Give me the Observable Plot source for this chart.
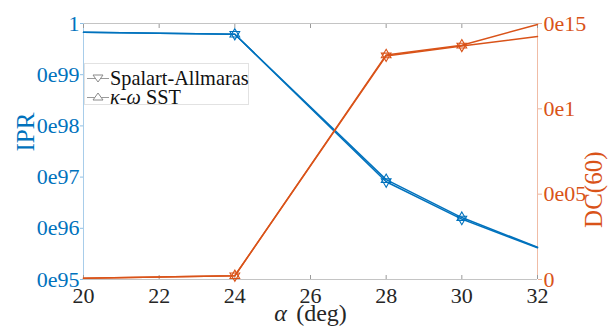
<!DOCTYPE html>
<html>
<head>
<meta charset="utf-8">
<script src="https://cdn.jsdelivr.net/npm/d3@7"></script>
<script src="https://cdn.jsdelivr.net/npm/@observablehq/plot@0.6"></script>
<style>
  body { margin: 0; background: #fff; }
  #wrap { position: relative; width: 615px; height: 330px; font-family: "Liberation Serif", serif; }
  #wrap svg text { font-family: "Liberation Serif", serif; }
  #legend { position: absolute; left: 84px; top: 63px; width: 165px; height: 42px; border: 1px solid #e2e2e2;
            background: #fff; box-sizing: border-box; font-size: 20.3px; color: #111; font-family: "Liberation Serif", serif; }
  .row { position: absolute; left: 2px; height: 19px; line-height: 19px; display: flex; align-items: center; white-space: nowrap; }
  .row span { line-height: 19px; }
  .row svg { margin-right: 1px; }
</style>
</head>
<body>
<div id="wrap"></div>
<script>
// Angle of attack (deg)
const alpha = [20, 24, 28, 30, 32];

// IPR for each turbulence model
const iprSA  = [0.9983, 0.9979, 0.9691, 0.9618, 0.9562];
const iprSST = [0.9983, 0.9979, 0.9695, 0.9621, 0.9563];

// DC(60) for each turbulence model
const dcSA  = [0.0008, 0.0022, 0.1310, 0.1368, 0.1424];
const dcSST = [0.0008, 0.0022, 0.1316, 0.1373, 0.1494];

// Axis ticks and their labels
const xTicks = [20, 22, 24, 26, 28, 30, 32];
const iprTicks = [1, 0.99, 0.98, 0.97, 0.96, 0.95];
const iprTickLabels = ["1", "0e99", "0e98", "0e97", "0e96", "0e95"];
const dcTicks = [0, 0.05, 0.1, 0.15];
const dcTickLabels = ["0", "0e05", "0e1", "0e15"];

const models = [
  {name: "Spalart-Allmaras", ipr: iprSA, dc: dcSA, rotate: 180},
  {name: "κ-ω SST", ipr: iprSST, dc: dcSST, rotate: 0}
];

const BLUE = "#0072BD", ORANGE = "#D95319";
const SERIF = "Liberation Serif";
const iprDomain = [0.95, 1];
const dcDomain = [0, 0.15];
// map a DC(60) value onto the shared (IPR) vertical scale
const toY = v => iprDomain[0] + (v - dcDomain[0]) / (dcDomain[1] - dcDomain[0]) * (iprDomain[1] - iprDomain[0]);

const rows = [];
for (const m of models) {
  alpha.forEach((a, i) => rows.push({alpha: a, ipr: m.ipr[i], dc: m.dc[i], model: m.name, rotate: m.rotate}));
}
const markerRows = rows.filter(d => d.alpha > alpha[0] && d.alpha < alpha[alpha.length - 1]);

const nearestLabel = (ticks, labels) => v => {
  let best = 0;
  ticks.forEach((t, i) => { if (Math.abs(t - v) < Math.abs(ticks[best] - v)) best = i; });
  return labels[best];
};

const plot = Plot.plot({
  width: 615,
  height: 330,
  marginLeft: 83,
  marginRight: 78,
  marginTop: 23,
  marginBottom: 51,
  style: {fontFamily: SERIF, background: "transparent", overflow: "visible"},
  x: {domain: [20, 32]},
  y: {domain: iprDomain},
  marks: [
    // box
    Plot.ruleY([iprDomain[1]], {stroke: "#c4c4c4"}),
    Plot.ruleY([iprDomain[0]], {stroke: "#c4c4c4"}),
    Plot.ruleX([20], {stroke: "#a8cdea"}),
    Plot.ruleX([32], {stroke: "#f0bca6"}),
    // x axis: inward ticks on bottom and top, labels below
    Plot.axisX({anchor: "bottom", ticks: xTicks, tickSize: -4, tickFormat: () => "", stroke: "#9a9a9a", label: null}),
    Plot.axisX({anchor: "top", ticks: xTicks, tickSize: -4, tickFormat: () => "", stroke: "#9a9a9a", label: null}),
    Plot.axisX({anchor: "bottom", ticks: xTicks, tickSize: 0, tickPadding: 8, fontSize: 22, fontFamily: SERIF, fill: "#262626", label: null}),
    // left axis (IPR)
    Plot.axisY({anchor: "left", ticks: iprTicks, tickFormat: nearestLabel(iprTicks, iprTickLabels),
                tickSize: 3, tickPadding: 1, fontSize: 22, fontFamily: SERIF, fill: BLUE, stroke: "#8fbfe3", label: null}),
    // right axis (DC(60))
    Plot.axisY({anchor: "right", ticks: dcTicks.map(toY), tickFormat: nearestLabel(dcTicks.map(toY), dcTickLabels),
                tickSize: 4, tickPadding: 2, fontSize: 22, fontFamily: SERIF, fill: ORANGE, stroke: "#eeb39a", label: null}),
    // IPR curves
    Plot.line(rows, {x: "alpha", y: "ipr", z: "model", stroke: BLUE, strokeWidth: 1.5}),
    Plot.dot(markerRows, {x: "alpha", y: "ipr", symbol: "triangle", rotate: "rotate", r: 3.6, stroke: BLUE, fill: "none", strokeWidth: 1.1}),
    // DC(60) curves
    Plot.line(rows, {x: "alpha", y: d => toY(d.dc), z: "model", stroke: ORANGE, strokeWidth: 1.5}),
    Plot.dot(markerRows, {x: "alpha", y: d => toY(d.dc), symbol: "triangle", rotate: "rotate", r: 3.6, stroke: ORANGE, fill: "none", strokeWidth: 1.1}),
    // axis titles
    Plot.text(["IPR"], {text: d => d, frameAnchor: "left", dx: -58, rotate: -90, fontSize: 25, fontFamily: SERIF, fill: BLUE}),
    Plot.text(["DC(60)"], {text: d => d, frameAnchor: "right", dx: 56, rotate: -90, fontSize: 25, fontFamily: SERIF, fill: ORANGE}),
    Plot.text(["α"], {text: d => d, frameAnchor: "bottom", dx: -30, dy: 41, fontSize: 24, fontStyle: "italic", fontFamily: SERIF, fill: "#262626"}),
    Plot.text(["(deg)"], {text: d => d, frameAnchor: "bottom", dx: 11, dy: 41, fontSize: 24, fontFamily: SERIF, fill: "#262626"})
  ]
});

const wrap = document.getElementById("wrap");
wrap.appendChild(plot);

// legend
const legend = document.createElement("div");
legend.id = "legend";
const legendLabels = ["Spalart-Allmaras", "<i>κ</i>-<i>ω</i> SST"];
models.forEach((m, i) => {
  const row = document.createElement("div");
  row.className = "row";
  row.style.top = (5 + i * 19) + "px";
  const tri = m.rotate === 180 ? "6,6 16,6 11,13" : "6,12 16,12 11,5";
  row.innerHTML = `<svg width="22" height="19"><line x1="0" y1="9.5" x2="22" y2="9.5" stroke="#9a9a9a" stroke-width="1"/>` +
    `<polygon points="${tri}" fill="#fff" stroke="#8a8a8a" stroke-width="1"/></svg><span>${legendLabels[i]}</span>`;
  legend.appendChild(row);
});
wrap.appendChild(legend);
</script>
</body>
</html>
